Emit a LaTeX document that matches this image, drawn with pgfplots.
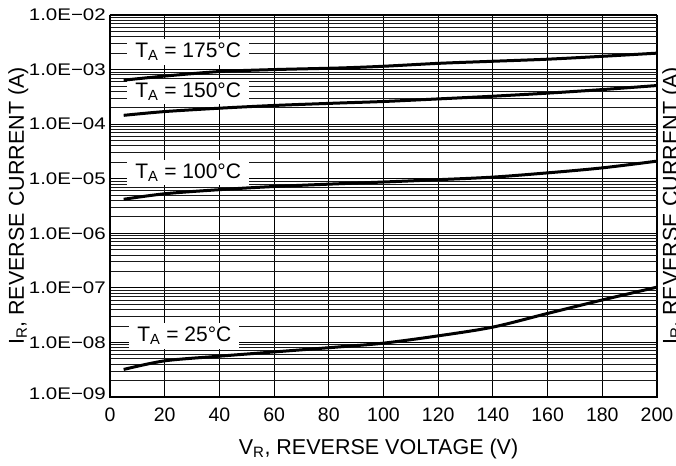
\documentclass[border=0pt]{standalone}
\usepackage{fontspec}
\setmainfont{Liberation Sans}
\newfontfamily\ytickfont[FakeStretch=1.22]{Liberation Sans}
\usepackage{pgfplots}
\pgfplotsset{compat=1.18}

\begin{document}
\begin{tikzpicture}
\begin{axis}[
    scale only axis,
    width=547pt, height=382pt,
    ymode=log,
    xmin=0, xmax=200,
    ymin=1e-9, ymax=1e-2,
    xtick distance=20,
    ytick={1e-9,1e-8,1e-7,1e-6,1e-5,1e-4,1e-3,1e-2},
    yticklabels={\raisebox{6pt}{1.0E−09},1.0E−08,1.0E−07,1.0E−06,1.0E−05,1.0E−04,1.0E−03,1.0E−02},
    /pgf/number format/assume math mode=true,
    xmajorgrids, ymajorgrids, yminorgrids,
    major grid style={black, line width=1.1pt},
    minor grid style={black!90, line width=0.9pt},
    major tick length=0pt, minor tick length=0pt,
    axis line style={line width=0.9pt},
    yticklabel style={font=\ytickfont\fontsize{16.8}{16.8}\selectfont, inner sep=0pt, anchor=east, xshift=-4pt},
    xticklabel style={font=\fontsize{19.5}{19.5}\selectfont, inner sep=0pt, anchor=north, yshift=-11pt},
    xlabel={V\textsubscript{R}, REVERSE VOLTAGE (V)},
    ylabel={I\textsubscript{R}, REVERSE CURRENT (A)},
    label style={font=\fontsize{21.5}{21.5}\selectfont, inner sep=0pt},
    xlabel style={at={(axis description cs:0.4909,-0.1361)}, anchor=center},
    ylabel style={at={(axis description cs:-0.1865,0.5)}, anchor=north},
    curve/.style={black, line width=3pt, smooth, no markers},
]
\tikzset{lbl/.style={fill=white, inner xsep=8pt, inner ysep=4pt, font=\fontsize{21}{21}\selectfont}}
\node[lbl] at (axis cs:28.6,2.10e-3) {T\textsubscript{A} = 175°C};
\node[lbl] at (axis cs:28.6,3.95e-4) {T\textsubscript{A} = 150°C};
\node[lbl] at (axis cs:28.6,1.30e-5) {T\textsubscript{A} = 100°C};
\node[lbl] at (axis cs:27.2,1.32e-8) {T\textsubscript{A} = 25°C};

% T_A = 175 C
\addplot[curve] coordinates {(5,6.4e-4)(20,7.6e-4)(40,9.2e-4)(60,1.0e-3)(84,1.07e-3)(100,1.15e-3)(120,1.3e-3)(140,1.42e-3)(160,1.55e-3)(180,1.75e-3)(200,2.0e-3)};
% T_A = 150 C
\addplot[curve] coordinates {(5,1.45e-4)(20,1.7e-4)(40,1.96e-4)(60,2.2e-4)(84,2.44e-4)(100,2.6e-4)(120,2.9e-4)(140,3.25e-4)(160,3.7e-4)(180,4.3e-4)(200,5.1e-4)};
% T_A = 100 C
\addplot[curve] coordinates {(5,4.2e-6)(20,5.3e-6)(40,6.3e-6)(60,7.2e-6)(84,8.1e-6)(100,8.7e-6)(120,9.6e-6)(140,1.07e-5)(160,1.28e-5)(180,1.58e-5)(200,2.1e-5)};
% T_A = 25 C
\addplot[curve] coordinates {(5,3.2e-9)(20,4.6e-9)(40,5.6e-9)(60,6.7e-9)(84,8.3e-9)(100,9.7e-9)(120,1.32e-8)(140,1.91e-8)(160,3.4e-8)(180,6.0e-8)(200,1.03e-7)};

\coordinate (O) at (rel axis cs:0,0);
\coordinate (X) at (rel axis cs:1,0);
\coordinate (Y) at (rel axis cs:0,1);
\coordinate (R) at (rel axis cs:1,0.5);
\end{axis}
\draw[line width=2.5pt] (Y) -- (O) -- (X);
\node[rotate=90, anchor=north, inner sep=0pt, font=\fontsize{21.5}{21.5}\selectfont] at ([xshift=5pt]R) {I\textsubscript{R}, REVERSE CURRENT (A)};
\pgfresetboundingbox
\path ([shift={(-110pt,-68pt)}]O) rectangle ([shift={(566pt,397pt)}]O);
\end{tikzpicture}
\end{document}
